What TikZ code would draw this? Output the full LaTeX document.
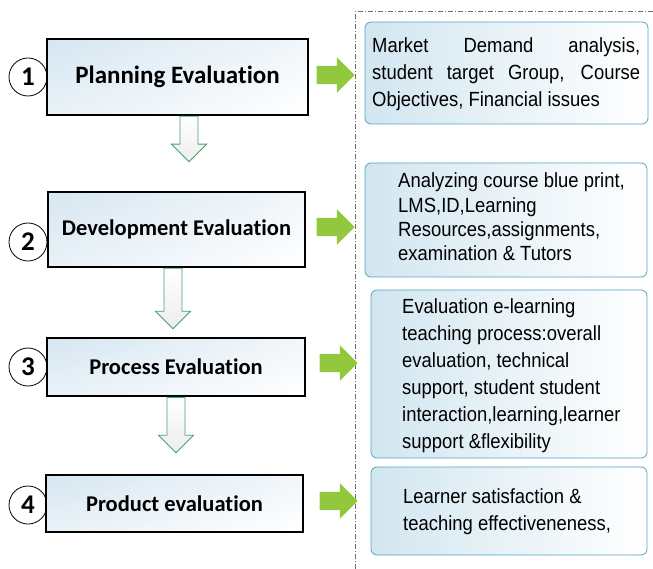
\documentclass[tikz,border=0pt]{standalone}
\usepackage{fontspec}
\setmainfont{Liberation Sans}
\newfontfamily\rfont{Liberation Sans}[FakeStretch=0.9]
\newfontfamily\cfont{Carlito}[Ligatures={NoCommon,NoContextual,NoDiscretionary}]
\usetikzlibrary{calc,shapes.arrows,shadings}
\definecolor{arrgreen}{RGB}{146,200,62}
\definecolor{dgreen}{RGB}{72,160,112}
\definecolor{rborder}{RGB}{80,165,195}
\definecolor{lblue}{RGB}{214,230,241}
\definecolor{rblue}{RGB}{210,230,240}
\definecolor{dashgray}{RGB}{110,110,110}
\newcommand\dnarr[4]{%
  \draw[darr] let \p1=($(#1.south)+(#3,0)$), \p2=($(#2.north)+(#3,#4)$) in
    (\x1-9pt,\y1) -- (\x1+9pt,\y1) -- (\x1+9pt,\y2+17.5pt) -- (\x1+17.5pt,\y2+17.5pt)
    -- (\x1,\y2) -- (\x1-17.5pt,\y2+17.5pt) -- (\x1-9pt,\y2+17.5pt) -- cycle;}
\begin{document}
\begin{tikzpicture}[x=1pt,y=-1pt,
  lbox/.style={draw=black, line width=2.6pt, inner sep=0pt,
    upper left=lblue, lower left=lblue!55!white, upper right=lblue!35!white, lower right=white},
  ltxt/.style={font=\cfont\bfseries\fontsize{#1}{#1}\selectfont},
  circ/.style={circle, draw=black, line width=0.8pt, fill=white, minimum size=38pt, inner sep=0pt,
    font=\cfont\bfseries\fontsize{27}{27}\selectfont},
  rarr/.style={single arrow, fill=arrgreen, draw=none, minimum height=38pt, minimum width=35pt,
    single arrow head extend=8.5pt, inner sep=0pt, text height=9pt, text depth=9pt, text width=0pt},
  darr/.style={draw=dgreen, line width=0.9pt, top color=white, bottom color=gray!14},
  rbox/.style={draw=rborder, line width=0.8pt, rounded corners=6pt, left color=rblue, right color=white, inner sep=0pt},
  rtxt/.style={font=\rfont\fontsize{20.5}{#1}\selectfont, inner sep=0pt, anchor=west},
  dd/.style={draw=dashgray, line width=1pt, dash pattern=on 5pt off 2pt on 1pt off 2pt}
]
\useasboundingbox (0,0) rectangle (653,569);
% frame
\draw[dd] (355,569) -- (355,12) -- (653,12);
% circles
\node[circ] (c1) at (28,77) {1};
\node[circ] (c2) at (28,242) {2};
\node[circ] (c3) at (28,367) {3};
\node[circ] (c4) at (28,505) {4};
% left boxes
\node[lbox, minimum width=261pt, minimum height=76pt, ltxt=25] (b1) at (177.5,77) {Planning Evaluation};
\node[lbox, minimum width=257pt, minimum height=75pt, ltxt=22.5] (b2) at (176.5,229.5) {Development Evaluation};
\node[lbox, minimum width=258pt, minimum height=58pt, ltxt=22.5] (b3) at (176,367) {Process Evaluation};
\node[lbox, minimum width=257pt, minimum height=57pt, ltxt=22.5] (b4) at (174.5,503.5) {Product evaluation};
% down arrows
\dnarr{b1}{b2}{11.5}{-29}
\dnarr{b2}{b3}{-3.5}{-8}
\dnarr{b3}{b4}{0}{-21}
% right boxes
\node[rbox, minimum width=283pt, minimum height=102pt] (rA) at (506.5,73) {};
\node[rbox, minimum width=282pt, minimum height=114pt] (rB) at (506,220) {};
\node[rbox, minimum width=276pt, minimum height=168pt] (rC) at (509,374) {};
\node[rbox, minimum width=276pt, minimum height=88pt] (rD) at (509,511) {};
% green arrows
\node[rarr] (g1) at (331,75) {};
\node[rarr] (g2) at (331,227) {};
\node[rarr] (g3) at (334,363) {};
\node[rarr] (g4) at (334,501) {};
% texts
\node[rtxt=27, text width=268pt, align=justify] (tA) at (372,74)
  {Market Demand analysis,\linebreak student target Group, Course\linebreak Objectives, Financial issues};
\node[rtxt=24.3, align=left] (tB) at (398,217)
  {Analyzing course blue print,\\LMS,ID,Learning\\Resources,assignments,\\examination \& Tutors};
\node[rtxt=27, align=left] (tC) at (402,375.5)
  {Evaluation e-learning\\teaching process:overall\\evaluation, technical\\support, student student\\interaction,learning,learner\\support \&flexibility};
\node[rtxt=27, align=left] (tD) at (403,512)
  {Learner satisfaction \&\\teaching effectiveneness,};
\end{tikzpicture}
\end{document}
